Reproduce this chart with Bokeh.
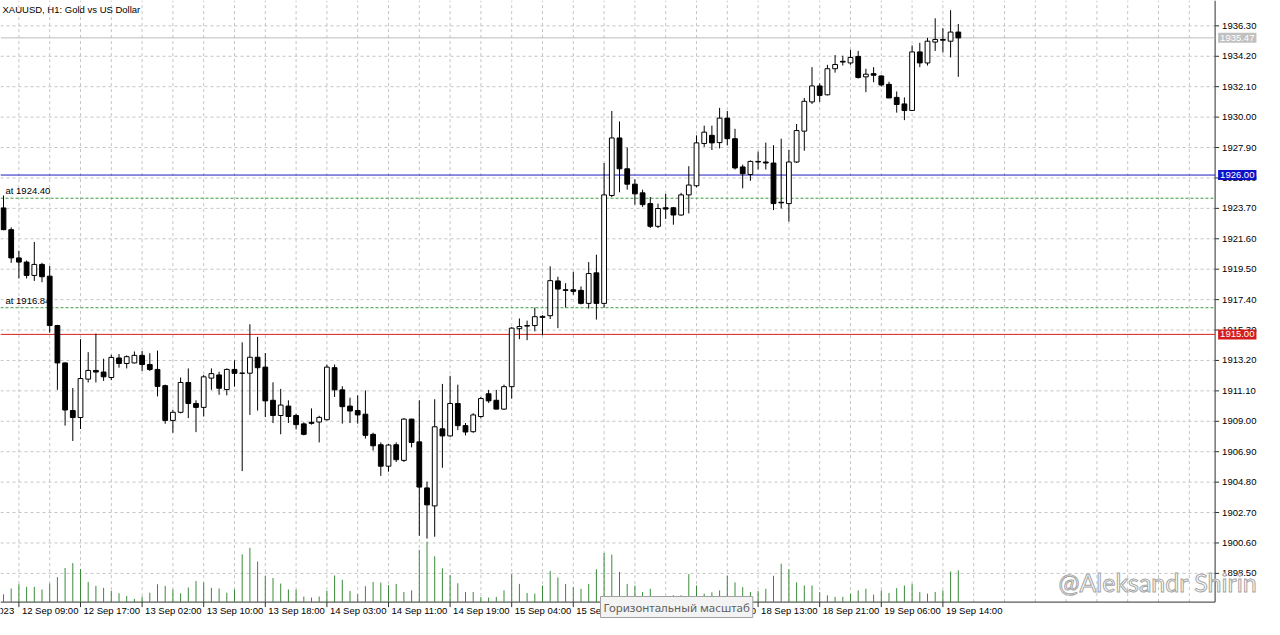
from bokeh.plotting import figure
from bokeh.models import Range1d, Label, ColumnDataSource
from bokeh.core.properties import value
from bokeh.embed import file_html
from bokeh.resources import INLINE

# ---------------- data ----------------
opens = [1923.73, 1922.23, 1920.28, 1919.99, 1919.07, 1919.83, 1919.02, 1915.61, 1913.03, 1909.74,
         1909.26, 1911.91, 1912.51, 1912.40, 1912.02, 1913.37, 1912.99, 1913.03, 1913.55, 1912.92,
         1912.58, 1911.46, 1909.06, 1909.62, 1911.68, 1910.23, 1909.96, 1911.98, 1912.20, 1911.19,
         1912.58, 1912.33, 1912.32, 1913.42, 1912.74, 1910.45, 1909.40, 1910.05, 1909.40, 1908.82,
         1908.93, 1908.95, 1909.11, 1912.70, 1911.17, 1910.05, 1909.74, 1909.49, 1908.10, 1907.38,
         1905.90, 1907.38, 1906.30, 1909.15, 1907.58, 1904.40, 1903.16, 1908.48, 1907.99, 1910.23,
         1908.70, 1908.28, 1909.33, 1910.90, 1910.45, 1909.84, 1911.39, 1915.39, 1915.57, 1915.61,
         1916.17, 1916.29, 1918.69, 1918.08, 1918.08, 1918.04, 1917.14, 1919.25, 1917.14, 1924.59,
         1928.56, 1926.43, 1925.37, 1924.77, 1924.03, 1922.46, 1923.74, 1923.74, 1923.24, 1924.63,
         1925.26, 1928.18, 1928.74, 1928.24, 1929.93, 1928.51, 1926.56, 1926.04, 1926.94, 1926.90,
         1926.83, 1924.12, 1924.03, 1926.90, 1929.03, 1931.05, 1932.15, 1931.54, 1933.34, 1933.85,
         1933.74, 1934.19, 1932.78, 1933.00, 1932.84, 1932.26, 1931.36, 1930.91, 1930.46, 1934.50,
         1933.74, 1935.18, 1935.36, 1935.24, 1935.87]
highs = [1924.59, 1922.39, 1920.77, 1920.10, 1921.38, 1919.94, 1919.72, 1915.66, 1913.07, 1911.30,
         1914.67, 1913.77, 1915.05, 1913.32, 1913.59, 1913.64, 1913.55, 1913.82, 1913.86, 1913.70,
         1913.88, 1911.53, 1909.78, 1912.02, 1912.65, 1910.45, 1912.20, 1912.65, 1912.42, 1912.65,
         1913.21, 1914.45, 1915.70, 1914.83, 1913.71, 1911.69, 1911.24, 1910.45, 1909.51, 1908.93,
         1909.89, 1909.38, 1912.92, 1912.92, 1911.42, 1910.63, 1910.79, 1911.13, 1908.21, 1907.54,
         1907.43, 1907.54, 1909.22, 1909.18, 1910.45, 1904.84, 1910.52, 1911.58, 1912.14, 1911.53,
         1908.88, 1909.56, 1910.68, 1911.17, 1911.17, 1911.53, 1915.50, 1916.10, 1915.95, 1916.85,
         1916.33, 1919.70, 1918.98, 1918.53, 1919.31, 1918.31, 1919.99, 1920.50, 1926.83, 1930.42,
         1929.70, 1927.91, 1925.71, 1924.99, 1924.48, 1924.03, 1924.70, 1923.80, 1924.77, 1926.61,
         1928.74, 1929.41, 1929.41, 1930.64, 1930.42, 1929.19, 1926.72, 1927.01, 1927.62, 1928.24,
         1928.06, 1928.51, 1927.73, 1929.52, 1931.32, 1933.45, 1932.33, 1933.61, 1934.28, 1934.24,
         1934.64, 1934.57, 1933.34, 1933.45, 1932.89, 1932.44, 1931.77, 1931.36, 1934.95, 1935.13,
         1935.47, 1936.82, 1936.14, 1937.38, 1936.43]
lows = [1922.19, 1919.94, 1918.86, 1918.86, 1918.69, 1918.60, 1915.12, 1911.17, 1908.70, 1907.64,
        1908.47, 1911.68, 1911.68, 1911.79, 1911.84, 1912.70, 1912.65, 1913.00, 1912.47, 1912.47,
        1910.72, 1908.83, 1908.21, 1909.55, 1909.22, 1908.25, 1909.33, 1911.17, 1910.83, 1910.79,
        1911.39, 1905.56, 1909.44, 1909.74, 1909.29, 1908.88, 1908.10, 1908.88, 1908.43, 1908.03,
        1908.77, 1907.54, 1909.06, 1910.68, 1908.84, 1908.88, 1908.84, 1907.81, 1906.98, 1905.23,
        1905.52, 1906.19, 1906.19, 1907.20, 1901.10, 1900.90, 1901.03, 1905.79, 1907.94, 1908.39,
        1908.03, 1908.21, 1909.20, 1910.27, 1909.84, 1909.78, 1910.56, 1914.67, 1914.60, 1915.21,
        1914.94, 1916.06, 1915.43, 1916.85, 1917.74, 1917.07, 1916.78, 1916.02, 1916.85, 1924.48,
        1924.81, 1924.99, 1923.96, 1923.80, 1922.34, 1922.34, 1922.97, 1922.57, 1923.20, 1923.35,
        1925.15, 1927.95, 1927.73, 1927.84, 1928.06, 1926.38, 1925.08, 1925.60, 1926.38, 1926.38,
        1923.58, 1923.69, 1922.79, 1926.83, 1927.68, 1930.91, 1931.05, 1931.50, 1933.07, 1933.56,
        1933.61, 1932.66, 1931.72, 1932.40, 1932.10, 1931.32, 1930.31, 1929.79, 1930.42, 1933.45,
        1933.56, 1934.57, 1934.46, 1934.12, 1932.78]
closes = [1922.23, 1920.28, 1919.99, 1919.07, 1919.83, 1918.98, 1915.61, 1913.03, 1909.78, 1909.26,
          1911.95, 1912.51, 1912.40, 1912.07, 1913.41, 1912.99, 1913.46, 1913.55, 1912.92, 1912.58,
          1911.41, 1909.06, 1909.62, 1911.68, 1910.23, 1909.96, 1912.07, 1912.29, 1911.28, 1912.58,
          1912.31, 1912.31, 1913.42, 1912.70, 1910.41, 1909.40, 1910.12, 1909.33, 1908.77, 1908.10,
          1908.86, 1909.27, 1912.74, 1911.17, 1910.01, 1909.71, 1909.44, 1908.03, 1907.31, 1905.90,
          1907.36, 1906.35, 1909.15, 1907.54, 1904.46, 1903.23, 1908.62, 1907.99, 1910.23, 1908.70,
          1908.26, 1909.44, 1910.57, 1910.41, 1909.84, 1911.39, 1915.43, 1915.54, 1915.61, 1916.22,
          1916.24, 1918.71, 1918.13, 1918.04, 1917.97, 1917.14, 1919.20, 1917.14, 1924.63, 1928.56,
          1926.43, 1925.37, 1924.70, 1923.96, 1922.46, 1923.69, 1923.65, 1923.24, 1924.63, 1925.31,
          1928.22, 1928.96, 1928.22, 1929.93, 1928.51, 1926.49, 1926.09, 1926.94, 1926.90, 1926.83,
          1924.03, 1924.08, 1926.90, 1929.07, 1931.09, 1932.15, 1931.50, 1933.34, 1933.63, 1933.80,
          1934.12, 1932.73, 1932.96, 1932.89, 1932.22, 1931.32, 1930.87, 1930.46, 1934.50, 1933.74,
          1935.24, 1935.36, 1935.31, 1935.87, 1935.47]
volumes = [24, 42, 55, 47, 47, 39, 57, 77, 105, 120, 102, 62, 50, 44, 35, 27, 19, 10, 17, 29,
           55, 50, 39, 27, 45, 65, 60, 44, 42, 29, 39, 147, 167, 125, 80, 74, 57, 39, 39, 17,
           14, 17, 35, 82, 69, 34, 24, 49, 62, 60, 52, 56, 31, 36, 161, 186, 141, 104, 83, 58,
           31, 31, 16, 14, 16, 36, 86, 56, 28, 26, 51, 96, 76, 56, 46, 41, 56, 101, 151, 146,
           93, 56, 51, 31, 41, 16, 16, 21, 21, 86, 51, 26, 30, 36, 81, 61, 46, 31, 34, 41,
           81, 118, 101, 61, 51, 51, 31, 21, 16, 16, 26, 36, 41, 23, 36, 28, 43, 51, 56, 31,
           26, 31, 36, 94, 98]

time_labels = ["12 Sep 2023", "12 Sep 09:00", "12 Sep 17:00", "13 Sep 02:00", "13 Sep 10:00",
               "13 Sep 18:00", "14 Sep 03:00", "14 Sep 11:00", "14 Sep 19:00", "15 Sep 04:00",
               "15 Sep 12:00", "15 Sep 20:00", "18 Sep 05:00", "18 Sep 13:00", "18 Sep 21:00",
               "19 Sep 06:00", "19 Sep 14:00"]
time_ticks = [-6, 2, 10, 18, 26, 34, 42, 50, 58, 66, 74, 82, 90, 98, 106, 114, 122]
price_ticks = [1898.50, 1900.60, 1902.70, 1904.80, 1906.90, 1909.00, 1911.10, 1913.20, 1915.30,
               1917.40, 1919.50, 1921.60, 1923.70, 1925.80, 1927.90, 1930.00, 1932.10, 1934.20,
               1936.30]
level_blue = 1926.00
level_red = 1915.00
level_bid = 1935.47
order_levels = [1924.40, 1916.84]

# ---------------- layout constants (pixels -> data) ----------------
W, H = 1264, 619
PX = 7.7          # pixels per bar
PY = 14.485       # pixels per price unit
X0 = -0.39
X1 = X0 + W / PX
Y1 = 1938.05
Y0 = Y1 - H / PY
XA = X0 + 1214.6 / PX     # price-axis line
YA = Y1 - 601.6 / PY      # time-axis line
VU = 3.077                # volume units per pixel
V0 = -(H - 601.6) * VU
V1 = V0 + H * VU

FONT = value("Liberation Sans")

n = len(opens)
idx = list(range(n))

p = figure(width=W, height=H, output_backend="svg", toolbar_location=None,
           x_range=Range1d(X0, X1), y_range=Range1d(Y0, Y1),
           x_axis_location=None, y_axis_location=None, min_border=0,
           background_fill_color="white", border_fill_color="white", outline_line_color=None)
p.extra_y_ranges = {"vol": Range1d(V0, V1)}
for g in p.grid:
    g.visible = False

# grid
grid_x = [2 + 4 * k for k in range(39)]
p.segment(x0=grid_x, y0=[YA] * len(grid_x), x1=grid_x, y1=[Y1] * len(grid_x),
          line_color="#c4c4c4", line_dash="3 3", line_width=1)
p.segment(x0=[X0] * len(price_ticks), y0=price_ticks, x1=[XA] * len(price_ticks), y1=price_ticks,
          line_color="#c4c4c4", line_dash="3 3", line_width=1)

# axis lines and ticks
p.segment(x0=[XA, X0], y0=[YA, YA], x1=[XA, XA], y1=[Y1, YA], line_color="#303030", line_width=1)
p.segment(x0=[XA] * len(price_ticks), y0=price_ticks, x1=[XA + 4 / PX] * len(price_ticks),
          y1=price_ticks, line_color="#303030", line_width=1)
p.segment(x0=time_ticks, y0=[YA] * len(time_ticks), x1=time_ticks,
          y1=[YA - 5 / PY] * len(time_ticks), line_color="#303030", line_width=1)

# tick labels
p.text(x=[XA + 7 / PX] * len(price_ticks), y=price_ticks,
       text=["%.2f" % v for v in price_ticks], text_font=FONT, text_font_size=value("9.5px"),
       text_color="black", text_baseline="middle", text_align="left")
p.text(x=[t + 3 / PX for t in time_ticks], y=[YA - 3 / PY] * len(time_ticks), text=time_labels,
       text_font=FONT, text_font_size=value("9.5px"), text_color="black",
       text_baseline="top", text_align="left")

# horizontal levels (behind candles)
xs_full = [X0, XA]
p.line(x=xs_full, y=[level_bid] * 2, line_color="#bdbdbd", line_width=1)
p.line(x=xs_full, y=[level_blue] * 2, line_color="#1c1cc0", line_width=1)
p.line(x=xs_full, y=[level_red] * 2, line_color="#d42020", line_width=1)
for lv in order_levels:
    p.line(x=xs_full, y=[lv] * 2, line_color="#3c9a3c", line_width=1, line_dash="3 2")
    p.add_layout(Label(x=X0, y=lv, x_offset=5, y_offset=2, text="at %.2f" % lv,
                       text_font="Liberation Sans", text_font_size="9.5px",
                       text_color="black", text_baseline="bottom"))

# volumes
vsrc = ColumnDataSource(dict(x=idx, v=volumes, z=[0] * n))
p.segment(x0="x", y0="z", x1="x", y1="v", source=vsrc, y_range_name="vol",
          line_color="#3a8c3a", line_width=1)

# candles
wsrc = ColumnDataSource(dict(x=idx, h=highs, l=lows))
p.segment(x0="x", y0="l", x1="x", y1="h", source=wsrc, line_color="black", line_width=1)

bx, bt, bb, bx2, bt2, bb2 = [], [], [], [], [], []
for i, (o, c) in enumerate(zip(opens, closes)):
    if c >= o:
        bx.append(i); bt.append(c); bb.append(o)
    else:
        bx2.append(i); bt2.append(o); bb2.append(c)
p.vbar(x=bx, top=bt, bottom=bb, width=0.62, fill_color="white", line_color="black", line_width=1)
p.vbar(x=bx2, top=bt2, bottom=bb2, width=0.62, fill_color="black", line_color="black", line_width=1)

# price tags on the axis
for lv, bg in [(level_bid, "#c0c0c0"), (level_blue, "#1010c8"), (level_red, "#d41c1c")]:
    p.add_layout(Label(x=XA, y=lv, x_offset=3, text="%.2f" % lv, text_font="Liberation Sans",
                       text_font_size="9.5px", text_color="white", text_baseline="middle",
                       background_fill_color=bg, padding=2))

# title
p.add_layout(Label(x=X0, y=Y1, x_offset=2, y_offset=-3, text="XAUUSD, H1:  Gold vs US Dollar",
                   text_font="Liberation Sans", text_font_size="9.5px", text_color="black",
                   text_baseline="top"))

# watermark
p.add_layout(Label(x=X0 + 1058 / PX, y=YA, y_offset=5, text="@Aleksandr Shirin", text_font="Lato",
                   text_font_size="25px", text_color="white", text_outline_color="#a6a6a6",
                   text_baseline="bottom"))

# tooltip
p.add_layout(Label(x=X0 + 600 / PX, y=Y1 - 596 / PY, text="Горизонтальный масштаб",
                   text_font="Noto Sans", text_font_size="11.5px", text_color="#606060",
                   text_baseline="top", background_fill_color="#f3f3f3",
                   border_line_color="#a0a0a0", padding=3))

open("out.html", "w").write(file_html(p, INLINE))
